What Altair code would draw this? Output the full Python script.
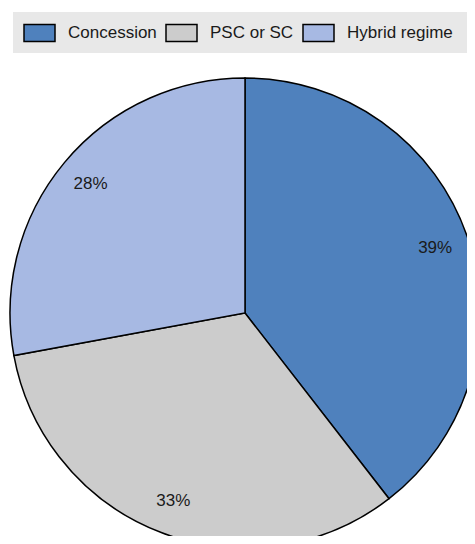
import altair as alt
import pandas as pd

categories = ["Concession", "PSC or SC", "Hybrid regime"]
shares = [39.5, 32.6, 27.9]
labels = ["39%", "33%", "28%"]
colors = ["#4f81bd", "#cccccc", "#a7b9e3"]

df = pd.DataFrame({
    "regime": categories,
    "share": shares,
    "label": labels,
    "order": list(range(len(categories))),
})

FONT = "Liberation Sans"
CX, CY = 237, 305

base = alt.Chart(df).encode(
    theta=alt.Theta("share:Q", stack=True),
    order=alt.Order("order:Q", sort="ascending"),
    x=alt.value(CX),
    y=alt.value(CY),
)

pie = base.mark_arc(outerRadius=235, stroke="black", strokeWidth=1.5).encode(
    color=alt.Color(
        "regime:N",
        scale=alt.Scale(domain=categories, range=colors),
        sort=categories,
        legend=alt.Legend(
            title=None,
            orient="none",
            legendX=15,
            legendY=8,
            direction="horizontal",
            symbolType="M-1,-0.55H1V0.55H-1Z",
            symbolSize=961,
            symbolStrokeColor="black",
            symbolStrokeWidth=1.5,
            symbolOpacity=1,
            labelFont=FONT,
            labelFontSize=17,
            labelColor="#1a1a1a",
            labelOffset=12,
            columnPadding=6,
            padding=0,
            labelLimit=300,
        ),
    )
)

text = base.mark_text(radius=201, font=FONT, fontSize=17, color="#1a1a1a").encode(
    text="label:N"
)

band = alt.Chart(alt.Data(values=[{"a": 1}])).mark_rect(color="#e8e8e8").encode(
    x=alt.value(5), x2=alt.value(467), y=alt.value(4), y2=alt.value(45)
)

chart = alt.layer(band, pie, text).properties(
    width=459,
    height=528,
    autosize=alt.AutoSizeParams(type="none"),
    padding=0,
).configure_view(stroke=None)

chart.save("out.html", embed_options={"renderer": "svg", "actions": False})
